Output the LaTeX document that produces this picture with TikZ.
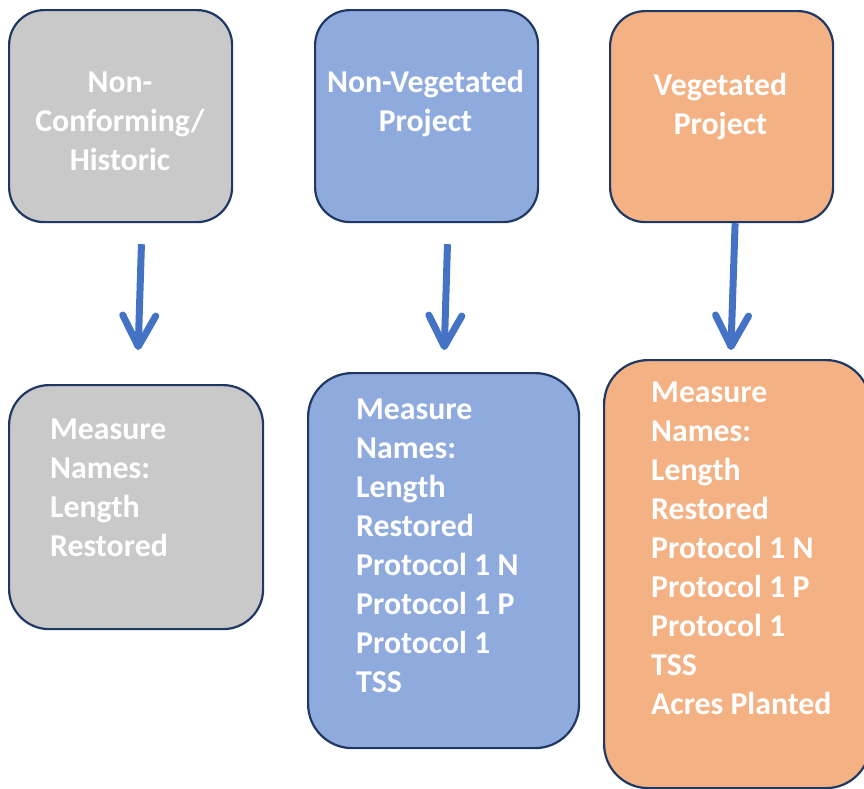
\documentclass[tikz,border=0pt]{standalone}
\usepackage{fontspec}
\setmainfont{Carlito}
\usetikzlibrary{arrows.meta}
\definecolor{boxline}{HTML}{203864}
\definecolor{grayfill}{HTML}{C9C9C9}
\definecolor{bluefill}{HTML}{8FAADC}
\definecolor{orangefill}{HTML}{F4B183}
\definecolor{flowblue}{HTML}{4472C4}
\tikzset{
  box/.style={draw=boxline, line width=2.2pt, rounded corners=#1, inner sep=0pt, anchor=north west},
  boxtext/.style={text=white, inner sep=0pt, font=\fontsize{31.8}{39}\selectfont\bfseries},
  flow/.style={draw=flowblue, line width=7pt, -{Straight Barb[length=31pt, width=33pt, round]}}
}
\begin{document}
\begin{tikzpicture}[x=1pt, y=-1pt]
\useasboundingbox (0,0) rectangle (864,788);

% Project types
\node[box=35pt, fill=grayfill, minimum width=223pt, minimum height=212pt] (hist) at (8,9) {};
\node[box=35pt, fill=bluefill, minimum width=223pt, minimum height=212pt] (nveg) at (314,9) {};
\node[box=35pt, fill=orangefill, minimum width=223pt, minimum height=211pt] (veg) at (609,10) {};

% (base = baseline of the last line)
\node[boxtext, anchor=base, align=center] (histT) at (120,170) {Non-\\Conforming/\\Historic};
\node[boxtext, anchor=base, align=center] (nvegT) at (425.5,131) {Non-Vegetated\\Project};
\node[boxtext, anchor=base, align=center] (vegT) at (720.5,134) {Vegetated\\Project};

% Measure names
\node[box=40pt, fill=grayfill, minimum width=254pt, minimum height=244pt] (histM) at (8,384) {};
\node[box=44pt, fill=bluefill, minimum width=271pt, minimum height=375pt] (nvegM) at (307,372) {};
\node[box=44pt, fill=orangefill, minimum width=266pt, minimum height=428pt] (vegM) at (603,359) {};

\node[boxtext, anchor=base west, align=left] (histL) at (50,556) {Measure\\Names:\\Length\\Restored};
\node[boxtext, anchor=base west, align=left] (nvegL) at (356,692) {Measure\\Names:\\Length\\Restored\\Protocol 1 N\\Protocol 1 P\\Protocol 1\\TSS};
\node[boxtext, anchor=base west, align=left] (vegL) at (651,714) {Measure\\Names:\\Length\\Restored\\Protocol 1 N\\Protocol 1 P\\Protocol 1\\TSS\\Acres Planted};

% Arrows
\foreach \from/\to/\dx/\ex/\sa/\sb in {
    hist/histM/21.5/1/21/34,
    nveg/nvegM/21.5/0/21/22,
    veg/vegM/13.5/-6.5/0/9
} {
    \draw[flow, shorten <=\sa pt, shorten >=\sb pt] ([xshift=\dx pt]\from.south) -- ([xshift=\ex pt]\to.north);
}
\end{tikzpicture}
\end{document}
